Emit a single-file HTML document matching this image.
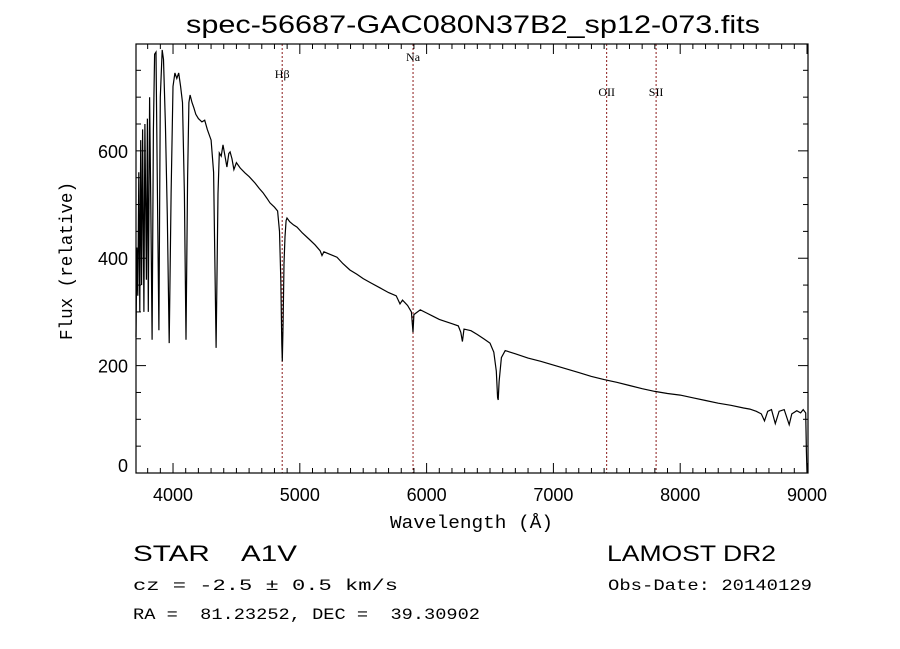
<!DOCTYPE html>
<html><head><meta charset="utf-8"><style>
body{margin:0;background:#fff;}
svg{display:block;font-family:"Liberation Sans",sans-serif;}
text{white-space:pre;}
</style></head><body>
<svg id="chart" width="900" height="649" viewBox="0 0 900 649">
<rect width="900" height="649" fill="#fff"/>
<text x="186" y="33" font-size="25" textLength="574" lengthAdjust="spacingAndGlyphs">spec-56687-GAC080N37B2_sp12-073.fits</text>
<g id="lines"></g>
<g id="axes"></g>
<path id="spec" fill="none" stroke="#000" stroke-width="1.2"/>
<rect x="136" y="44" width="672" height="429" fill="none" stroke="#000" stroke-width="1.2"/>
<text x="390" y="528" font-size="18" font-family="Liberation Mono, monospace" textLength="163" lengthAdjust="spacingAndGlyphs">Wavelength (Å)</text>
<text transform="translate(72,340) rotate(-90)" font-size="18" font-family="Liberation Mono, monospace" textLength="158" lengthAdjust="spacingAndGlyphs">Flux (relative)</text>
<text x="133" y="561" font-size="22" font-family="Liberation Sans, sans-serif" textLength="164" lengthAdjust="spacingAndGlyphs">STAR    A1V</text>
<text x="607" y="561" font-size="22" font-family="Liberation Sans, sans-serif" textLength="169" lengthAdjust="spacingAndGlyphs">LAMOST DR2</text>
<text x="133" y="590" font-size="16" font-family="Liberation Mono, monospace" textLength="265" lengthAdjust="spacingAndGlyphs">cz = -2.5 ± 0.5 km/s</text>
<text x="608" y="590" font-size="16" font-family="Liberation Mono, monospace" textLength="204" lengthAdjust="spacingAndGlyphs">Obs-Date: 20140129</text>
<text x="133" y="619" font-size="16" font-family="Liberation Mono, monospace" textLength="347" lengthAdjust="spacingAndGlyphs">RA =  81.23252, DEC =  39.30902</text>
</svg>
<script>
const wavelengths=[3708,3715,3722,3730,3738,3745,3752,3760,3770,3778,3790,3798,3805,3815,3825,3835,3845,3855,3866,3875,3889,3900,3915,3925,3940,3955,3970,3985,4000,4015,4030,4045,4060,4075,4090,4102,4115,4125,4135,4150,4165,4180,4200,4228,4250,4270,4300,4320,4340,4355,4365,4380,4394,4410,4425,4440,4450,4465,4480,4500,4530,4568,4600,4647,4680,4710,4740,4765,4800,4825,4840,4850,4858,4862,4868,4875,4883,4892,4899,4920,4950,4978,5020,5080,5120,5160,5175,5190,5230,5293,5340,5395,5450,5500,5560,5632,5700,5760,5790,5810,5850,5880,5893,5900,5950,6000,6050,6100,6150,6200,6250,6270,6282,6295,6350,6400,6450,6500,6530,6550,6560,6565,6572,6590,6620,6700,6800,6900,7000,7100,7200,7300,7400,7500,7600,7700,7800,7900,8000,8100,8200,8300,8400,8500,8550,8600,8640,8665,8690,8720,8750,8780,8820,8860,8880,8920,8950,8970,8990,8995,9000];
const fluxes=[253,420,330,560,300,620,350,640,300,650,360,660,300,700,500,248,640,780,784,560,266,700,788,770,650,480,242,520,720,745,735,745,720,690,520,248,550,690,704,690,680,668,660,654,657,640,620,560,233,520,596,590,611,590,570,595,598,585,565,578,568,559,552,540,530,522,512,503,495,488,450,360,240,208,280,390,440,470,475,468,462,458,447,434,425,414,405,412,408,402,390,378,370,362,354,345,336,330,315,322,312,300,262,295,304,298,292,286,282,278,274,262,245,268,265,258,250,242,225,190,140,136,170,215,228,222,214,208,201,194,187,180,174,169,163,157,152,148,145,140,135,130,126,121,119,115,110,97,115,118,92,115,118,90,110,116,112,118,112,40,0];
const xTicks=[4000,5000,6000,7000,8000,9000];
const yTicks=[0,200,400,600];
const lineWaves=[4861,5893,7420,7810];
const lineLabels=["Hβ","Na","OII","SII"];
const lineLabelY=[78,61,96,96];
const X0=136,X1=808,Y0=473,Y1=44,WMIN=3708,WMAX=9008,FMAX=799;
const sx=w=>X0+(w-WMIN)/(WMAX-WMIN)*(X1-X0);
const sy=f=>Y0-f/FMAX*(Y0-Y1);
const NS="http://www.w3.org/2000/svg";
function mk(tag,attrs,parent){const e=document.createElementNS(NS,tag);for(const k in attrs)e.setAttribute(k,attrs[k]);parent.appendChild(e);return e;}
let d="";
wavelengths.forEach((w,i)=>{d+=(i?"L":"M")+sx(w).toFixed(1)+","+sy(fluxes[i]).toFixed(1);});
document.getElementById("spec").setAttribute("d",d);
const axes=document.getElementById("axes");
for(let w=3800;w<=9000;w+=100){
  const big=w%1000===0, x=sx(w), L=big?10:5;
  const t1=mk("line",{x1:x,x2:x,y1:Y0,y2:Y0-L,stroke:"#000"},axes);
  
  
  const t2=mk("line",{x1:x,x2:x,y1:Y1,y2:Y1+L,stroke:"#000"},axes);
  
  
}
xTicks.forEach(w=>{
  const t=mk("text",{x:sx(w),y:Y0+28,"font-size":"18","text-anchor":"middle"},axes);
  t.textContent=w;
  
  
});
for(let f=50;f<=750;f+=50){
  const big=f%200===0, y=sy(f), L=big?10:5;
  const t1=mk("line",{x1:X0,x2:X0+L,y1:y,y2:y,stroke:"#000"},axes);
  
  
  const t2=mk("line",{x1:X1,x2:X1-L,y1:y,y2:y,stroke:"#000"},axes);
  
  
}
yTicks.forEach(f=>{
  const y=f===0?sy(f)-1:sy(f)+7;
  const t=mk("text",{x:X0-8,y:y,"font-size":"18","text-anchor":"end"},axes);
  t.textContent=f;
  
  
});
const lg=document.getElementById("lines");
lineWaves.forEach((w,i)=>{
  const l=mk("line",{x1:sx(w),x2:sx(w),y1:Y1,y2:Y0,stroke:"#8b1a1a","stroke-dasharray":"2,2","stroke-width":"1"},lg);
  
  
  const t=mk("text",{x:sx(w),y:lineLabelY[i],"font-size":"12","text-anchor":"middle","font-family":"Liberation Serif, serif"},lg);
  t.textContent=lineLabels[i];
  
  
});
</script>
</body></html>
